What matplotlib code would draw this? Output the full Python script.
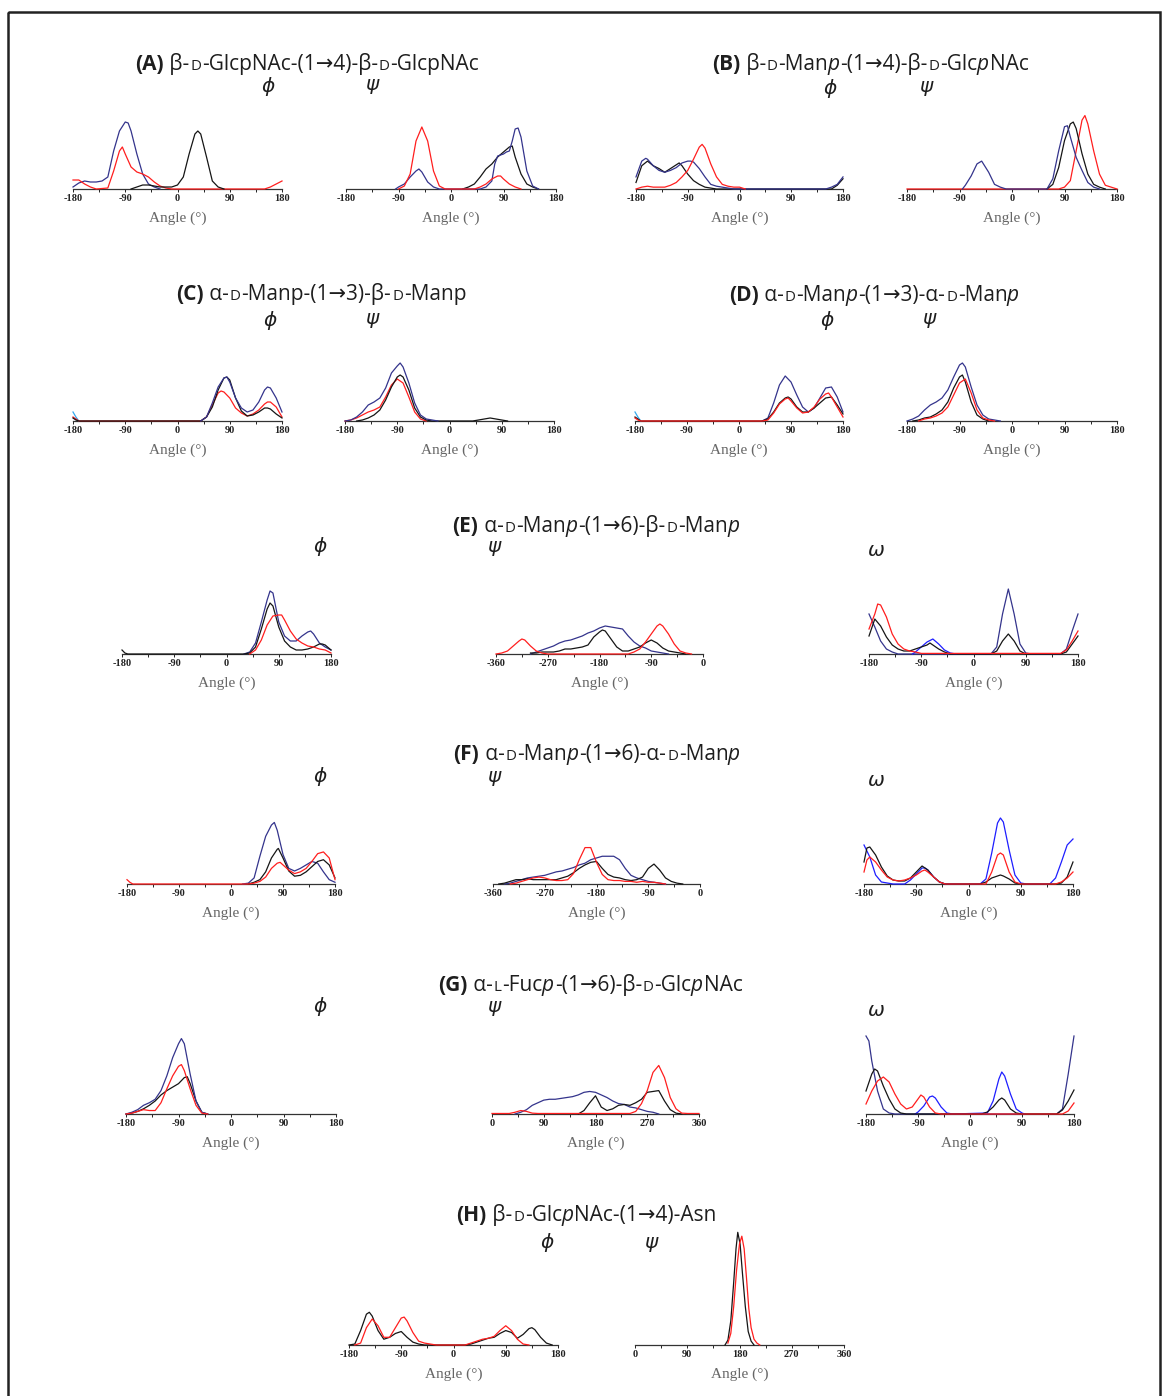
import matplotlib
matplotlib.use("Agg")
import matplotlib.pyplot as plt
from matplotlib.patches import Rectangle

# ---- curves: (angle in degrees, relative height) ----
A_phi_navy = [(-180, 2), (-170, 6), (-160, 8), (-150, 7), (-140, 7), (-130, 8), (-120, 12), (-110, 38), (-100, 58),
              (-90, 67), (-85, 66), (-80, 58), (-70, 35), (-60, 15), (-50, 5), (-40, 2), (-30, 0)]
A_phi_red = [(-180, 9), (-170, 9), (-160, 5), (-150, 2), (-140, 0), (-120, 1), (-110, 18), (-100, 38), (-95, 42),
             (-90, 35), (-80, 22), (-70, 17), (-60, 15), (-50, 12), (-40, 7), (-30, 3), (-20, 1), (-10, 0),
             (150, 0), (160, 2), (170, 5), (180, 8)]
A_phi_black = [(-80, 0), (-70, 2), (-60, 4), (-50, 4), (-40, 3), (-30, 2), (-20, 2), (-10, 2), (0, 4), (10, 12),
               (20, 35), (30, 55), (35, 58), (40, 55), (50, 32), (60, 8), (70, 2), (80, 0)]

A_psi_red = [(-90, 0), (-80, 3), (-70, 15), (-60, 48), (-50, 62), (-40, 48), (-30, 18), (-20, 3), (-10, 0),
             (40, 0), (50, 2), (60, 5), (70, 10), (80, 13), (85, 13), (90, 10), (100, 5), (110, 2), (120, 0)]
A_psi_navy = [(-95, 0), (-90, 2), (-80, 5), (-70, 12), (-60, 18), (-55, 20), (-50, 17), (-40, 7), (-30, 2), (-20, 0),
              (50, 0), (60, 2), (70, 8), (75, 25), (80, 33), (90, 35), (95, 37), (100, 38), (105, 48), (110, 60),
              (115, 61), (120, 52), (125, 35), (130, 18), (140, 3), (150, 0)]
A_psi_black = [(20, 0), (30, 2), (40, 5), (50, 12), (60, 20), (70, 25), (80, 32), (90, 37), (100, 42), (105, 43),
               (110, 32), (120, 15), (130, 5), (140, 2), (150, 0)]

B_phi_navy = [(-180, 13), (-170, 30), (-163, 33), (-160, 32), (-150, 25), (-140, 20), (-130, 18), (-120, 20),
              (-110, 23), (-100, 28), (-90, 30), (-85, 30), (-80, 29), (-70, 22), (-60, 13), (-50, 5), (-40, 3),
              (-30, 2), (-20, 1), (-10, 0), (150, 0), (160, 2), (170, 5), (180, 13)]
B_phi_black = [(-180, 7), (-170, 25), (-160, 30), (-150, 25), (-140, 22), (-130, 18), (-120, 22), (-110, 26),
               (-105, 28), (-100, 25), (-90, 16), (-80, 9), (-70, 5), (-60, 2), (-50, 1), (-40, 0), (160, 0),
               (170, 4), (180, 11)]
B_phi_red = [(-180, 0), (-170, 2), (-160, 3), (-150, 2), (-140, 2), (-130, 2), (-120, 4), (-110, 7), (-100, 13),
             (-90, 20), (-80, 32), (-70, 45), (-65, 48), (-60, 44), (-50, 27), (-40, 13), (-30, 5), (-20, 3),
             (-10, 2), (0, 2), (10, 0)]

B_psi_navy = [(-85, 0), (-80, 4), (-70, 14), (-60, 27), (-52, 30), (-50, 28), (-40, 18), (-30, 5), (-20, 2), (-10, 0),
              (60, 0), (70, 11), (80, 41), (90, 67), (95, 68), (100, 56), (110, 34), (120, 20), (130, 7), (140, 2),
              (150, 0)]
B_psi_black = [(60, 0), (70, 5), (80, 23), (90, 52), (100, 70), (105, 72), (110, 65), (120, 38), (130, 16), (140, 5),
               (150, 2), (160, 0)]
B_psi_red = [(-180, 0), (80, 0), (90, 2), (100, 9), (110, 41), (120, 74), (125, 79), (130, 70), (140, 41), (150, 16),
             (160, 4), (170, 2), (180, 0)]

C_phi_cyan = [(-180, 9), (-175, 4), (-170, 0)]
C_phi_navy = [(40, 0), (50, 4), (60, 18), (70, 34), (80, 43), (85, 44), (90, 39), (100, 23), (110, 13), (120, 9),
              (130, 11), (140, 19), (150, 31), (155, 34), (160, 33), (170, 23), (180, 9)]
C_phi_black = [(-180, 3), (-175, 1), (-170, 0), (40, 0), (50, 4), (60, 14), (70, 31), (80, 43), (85, 44), (90, 41),
               (100, 23), (110, 10), (120, 5), (130, 6), (140, 9), (150, 13), (155, 13), (160, 12), (170, 7), (180, 3)]
C_phi_red = [(-180, 4), (-175, 2), (-170, 0), (40, 0), (50, 4), (60, 16), (70, 28), (75, 30), (80, 29), (90, 23),
             (100, 13), (110, 8), (120, 5), (130, 7), (140, 11), (150, 17), (155, 19), (160, 19), (170, 14), (180, 4)]

C_psi_navy = [(-180, 0), (-170, 1), (-160, 4), (-150, 9), (-140, 16), (-130, 19), (-120, 23), (-110, 33), (-100, 48),
              (-90, 55), (-85, 58), (-80, 54), (-70, 38), (-60, 18), (-50, 6), (-40, 2), (-30, 1), (-20, 0)]
C_psi_black = [(-160, 0), (-150, 1), (-140, 3), (-130, 6), (-120, 11), (-110, 21), (-100, 34), (-90, 44), (-85, 46),
               (-80, 44), (-70, 31), (-60, 13), (-50, 4), (-40, 1), (-30, 0), (40, 0), (50, 1), (60, 2), (70, 3),
               (80, 2), (90, 1), (100, 0)]
C_psi_red = [(-180, 0), (-170, 1), (-160, 3), (-150, 6), (-140, 9), (-130, 11), (-120, 14), (-110, 24), (-100, 36),
             (-90, 42), (-80, 38), (-70, 24), (-60, 9), (-50, 2), (-40, 0)]

D_phi_cyan = [(-180, 9), (-175, 4), (-170, 0)]
D_phi_navy = [(40, 0), (50, 3), (60, 18), (70, 36), (80, 45), (90, 39), (100, 26), (110, 14), (120, 9), (130, 13),
              (140, 23), (150, 33), (160, 34), (170, 24), (180, 9)]
D_phi_black = [(-180, 4), (-175, 2), (-170, 0), (40, 0), (50, 2), (60, 9), (70, 18), (80, 23), (85, 24), (90, 22),
               (100, 14), (110, 9), (120, 9), (130, 13), (140, 18), (150, 23), (160, 24), (170, 16), (180, 7)]
D_phi_red = [(-180, 3), (-175, 1), (-170, 0), (40, 0), (50, 1), (60, 8), (70, 17), (80, 22), (85, 23), (90, 20),
             (100, 13), (110, 8), (120, 9), (130, 14), (140, 22), (150, 27), (155, 28), (160, 24), (170, 14), (180, 4)]

D_psi_navy = [(-180, 0), (-170, 2), (-160, 5), (-150, 11), (-140, 16), (-130, 19), (-120, 23), (-110, 31), (-100, 44),
              (-90, 56), (-85, 58), (-80, 54), (-70, 34), (-60, 16), (-50, 6), (-40, 2), (-30, 1), (-20, 0)]
D_psi_black = [(-170, 0), (-160, 1), (-150, 3), (-140, 4), (-130, 7), (-120, 11), (-110, 19), (-100, 33), (-90, 44),
               (-85, 46), (-80, 39), (-70, 19), (-60, 6), (-50, 2), (-40, 0)]
D_psi_red = [(-160, 0), (-150, 2), (-140, 3), (-130, 5), (-120, 8), (-110, 14), (-100, 26), (-90, 38), (-80, 42),
             (-70, 28), (-60, 11), (-50, 3), (-40, 1), (-30, 0)]

E_phi_navy = [(30, 0), (40, 2), (50, 11), (60, 32), (70, 54), (75, 63), (80, 61), (90, 32), (100, 18), (110, 13),
              (120, 13), (130, 18), (140, 22), (145, 23), (150, 20), (160, 11), (170, 7), (180, 4)]
E_phi_black = [(-180, 4), (-175, 1), (-170, 0), (30, 0), (40, 1), (50, 7), (60, 25), (70, 45), (75, 51), (80, 48),
               (90, 27), (100, 13), (110, 7), (120, 4), (130, 4), (140, 5), (150, 7), (160, 10), (165, 10), (170, 9),
               (180, 4)]
E_phi_red = [(40, 0), (50, 4), (60, 14), (70, 29), (80, 38), (90, 39), (95, 39), (100, 34), (110, 23), (120, 15),
             (130, 11), (140, 8), (150, 7), (160, 5), (170, 4), (180, 1)]

E_psi_red = [(-360, 0), (-350, 1), (-340, 3), (-330, 8), (-320, 13), (-315, 15), (-310, 14), (-300, 8), (-290, 3),
             (-280, 1), (-270, 0), (-130, 0), (-120, 2), (-110, 5), (-100, 12), (-90, 20), (-80, 28), (-75, 30),
             (-70, 28), (-60, 20), (-50, 10), (-40, 3), (-30, 1), (-20, 0)]
E_psi_navy = [(-300, 0), (-290, 2), (-280, 4), (-270, 6), (-260, 8), (-250, 11), (-240, 13), (-230, 14), (-220, 16),
              (-210, 18), (-200, 21), (-190, 23), (-180, 26), (-170, 28), (-160, 27), (-150, 26), (-140, 25),
              (-130, 18), (-120, 12), (-110, 8), (-100, 6), (-90, 3), (-80, 2), (-70, 1), (-60, 0)]
E_psi_black = [(-300, 1), (-290, 1), (-280, 2), (-270, 2), (-260, 2), (-250, 3), (-240, 5), (-230, 5), (-220, 6),
               (-210, 7), (-200, 9), (-190, 17), (-180, 22), (-175, 24), (-170, 23), (-160, 15), (-150, 7),
               (-140, 3), (-130, 3), (-120, 5), (-110, 7), (-100, 11), (-90, 14), (-80, 11), (-70, 6), (-60, 3),
               (-50, 2), (-40, 1), (-30, 0)]

E_omega_navy = [(-180, 40), (-170, 27), (-160, 13), (-150, 5), (-140, 2), (-130, 0), (30, 0), (40, 7), (50, 40),
                (60, 65), (70, 40), (80, 10), (90, 1), (100, 0), (150, 0), (160, 5), (170, 23), (180, 40)]
E_omega_blue = [(-105, 0), (-100, 2), (-90, 7), (-80, 12), (-70, 15), (-60, 10), (-50, 4), (-40, 1), (-30, 0)]
E_omega_black = [(-180, 18), (-170, 35), (-160, 28), (-150, 17), (-140, 9), (-130, 5), (-120, 3), (-110, 3),
                 (-100, 5), (-90, 7), (-80, 9), (-75, 11), (-70, 9), (-60, 5), (-50, 2), (-40, 0), (30, 0), (40, 3),
                 (50, 13), (60, 20), (70, 13), (80, 3), (90, 0), (150, 0), (160, 2), (170, 10), (180, 18)]
E_omega_red = [(-180, 25), (-170, 40), (-165, 50), (-160, 49), (-150, 37), (-140, 20), (-130, 10), (-120, 5),
               (-110, 3), (-100, 2), (-90, 0.6), (150, 0.6), (160, 4), (170, 13), (180, 23)]

F_phi_navy = [(20, 0), (30, 1), (40, 7), (50, 32), (60, 55), (70, 68), (75, 71), (80, 62), (90, 34), (100, 18),
              (110, 15), (120, 18), (130, 22), (140, 26), (150, 24), (160, 14), (170, 5), (180, 2)]
F_phi_black = [(30, 0), (40, 2), (50, 5), (60, 14), (70, 30), (80, 40), (82, 41), (90, 30), (100, 15), (110, 9),
               (120, 10), (130, 14), (140, 20), (150, 26), (160, 28), (170, 22), (180, 7)]
F_phi_red = [(-180, 5), (-175, 2), (-170, 0), (30, 0), (40, 1), (50, 3), (60, 8), (70, 18), (80, 24), (85, 25),
             (90, 22), (100, 16), (110, 12), (120, 14), (130, 18), (140, 26), (150, 35), (160, 37), (170, 30), (180, 5)]

F_psi_navy = [(-340, 0), (-330, 1), (-320, 3), (-310, 5), (-300, 7), (-290, 8), (-280, 9), (-270, 10), (-260, 12),
              (-250, 14), (-240, 15), (-230, 17), (-220, 19), (-210, 22), (-200, 24), (-190, 28), (-180, 30),
              (-170, 32), (-160, 32), (-150, 32), (-140, 28), (-130, 18), (-120, 10), (-110, 7), (-100, 5), (-90, 3),
              (-80, 2), (-70, 1), (-60, 0)]
F_psi_black = [(-350, 0), (-340, 1), (-330, 3), (-320, 5), (-310, 5), (-300, 6), (-290, 5), (-280, 5), (-270, 5),
               (-260, 5), (-250, 5), (-240, 7), (-230, 9), (-220, 13), (-210, 18), (-200, 22), (-190, 25), (-180, 26),
               (-170, 18), (-160, 11), (-150, 8), (-140, 7), (-130, 5), (-120, 4), (-110, 5), (-100, 8), (-90, 18),
               (-80, 23), (-70, 16), (-60, 7), (-50, 3), (-40, 1), (-30, 0)]
F_psi_red = [(-330, 0), (-320, 1), (-310, 3), (-300, 5), (-290, 7), (-280, 8), (-270, 7), (-260, 5), (-250, 4),
             (-240, 4), (-230, 5), (-220, 12), (-210, 28), (-200, 42), (-190, 42), (-180, 25), (-170, 11), (-160, 5),
             (-150, 4), (-140, 4), (-130, 3), (-120, 3), (-110, 2), (-100, 3), (-90, 2), (-80, 2), (-70, 1), (-60, 0)]

F_omega_blue = [(-180, 39), (-170, 27), (-160, 9), (-150, 2), (-140, 1), (-130, 0), (-110, 0), (-100, 4), (-90, 10),
                (-80, 16), (-75, 16), (-70, 14), (-60, 7), (-50, 2), (-40, 0), (20, 0), (30, 5), (40, 31), (50, 61),
                (55, 66), (60, 62), (70, 34), (80, 9), (90, 1), (100, 0), (140, 0), (150, 6), (160, 22), (170, 39),
                (180, 45)]
F_omega_black = [(-180, 22), (-175, 36), (-170, 37), (-160, 29), (-150, 17), (-140, 8), (-130, 4), (-120, 3),
                 (-110, 3), (-100, 6), (-90, 12), (-80, 18), (-70, 14), (-60, 7), (-50, 2), (-40, 0), (20, 0),
                 (30, 2), (40, 6), (50, 8), (55, 9), (60, 8), (70, 5), (80, 1), (90, 0), (150, 0), (160, 1),
                 (170, 7), (180, 22)]
F_omega_red = [(-180, 12), (-175, 24), (-170, 27), (-160, 22), (-150, 14), (-140, 7), (-130, 4), (-120, 3),
               (-110, 4), (-100, 6), (-90, 9), (-80, 13), (-75, 14), (-70, 12), (-60, 7), (-50, 2), (-40, 0), (30, 0),
               (40, 12), (50, 29), (55, 31), (60, 29), (70, 12), (80, 2), (90, 0), (150, 0), (160, 2), (170, 6),
               (180, 12)]

G_phi_navy = [(-180, 0), (-170, 2), (-160, 5), (-150, 10), (-140, 13), (-130, 17), (-120, 27), (-110, 44), (-100, 65),
              (-90, 81), (-85, 87), (-80, 81), (-70, 46), (-60, 15), (-50, 2), (-40, 0)]
G_phi_red = [(-180, 0), (-170, 1), (-160, 3), (-150, 5), (-140, 4), (-130, 4), (-120, 13), (-110, 29), (-100, 44),
             (-90, 55), (-85, 57), (-80, 50), (-70, 29), (-60, 10), (-50, 1), (-40, 0)]
G_phi_black = [(-180, 0), (-170, 1), (-160, 3), (-150, 6), (-140, 10), (-130, 15), (-120, 22), (-110, 27), (-100, 31),
               (-90, 35), (-80, 42), (-75, 43), (-70, 35), (-60, 15), (-50, 2), (-40, 0)]

G_psi_navy = [(40, 0), (50, 2), (60, 5), (70, 10), (80, 13), (90, 16), (100, 17), (110, 17), (120, 18), (130, 19),
              (140, 20), (150, 22), (160, 25), (170, 26), (180, 25), (190, 22), (200, 19), (210, 15), (220, 12),
              (230, 11), (240, 8), (250, 7), (260, 5), (270, 3), (280, 2), (290, 0)]
G_psi_black = [(150, 0), (160, 4), (170, 13), (180, 21), (190, 8), (200, 4), (210, 6), (220, 10), (230, 11), (240, 10),
               (250, 13), (260, 17), (270, 25), (280, 26), (290, 27), (300, 15), (310, 5), (320, 1), (330, 0)]
G_psi_red = [(0, 0.6), (30, 0.6), (40, 2), (50, 4), (60, 3), (70, 1), (80, 0.6), (240, 0.6), (250, 3), (260, 12),
             (270, 27), (280, 48), (290, 56), (300, 42), (310, 19), (320, 6), (330, 1), (340, 0.6), (360, 0.6)]

G_omega_navy = [(-180, 78), (-175, 73), (-170, 53), (-160, 23), (-150, 5), (-140, 1), (-130, 0), (150, 0), (160, 5),
                (170, 40), (180, 78)]
G_omega_blue = [(-95, 0), (-90, 2), (-80, 8), (-70, 17), (-65, 18), (-60, 16), (-50, 7), (-40, 1), (-30, 0), (30, 1),
                (40, 13), (50, 35), (55, 42), (60, 38), (70, 20), (80, 5), (90, 1), (95, 0)]
G_omega_black = [(-180, 23), (-170, 40), (-165, 45), (-160, 43), (-150, 28), (-140, 15), (-130, 5), (-120, 1),
                 (-110, 0), (20, 0), (30, 2), (40, 7), (50, 14), (55, 16), (60, 14), (70, 5), (80, 1), (90, 0),
                 (150, 0), (160, 4), (170, 13), (180, 24)]
G_omega_red = [(-180, 10), (-170, 23), (-160, 33), (-150, 37), (-140, 32), (-130, 20), (-120, 10), (-110, 5),
               (-100, 7), (-90, 15), (-85, 19), (-80, 17), (-70, 7), (-60, 1), (-50, 0), (160, 0), (170, 3), (180, 11)]

H_phi_black = [(-180, 0), (-170, 1), (-160, 15), (-150, 32), (-145, 34), (-140, 30), (-130, 15), (-120, 6),
               (-110, 8), (-100, 12), (-90, 14), (-80, 8), (-70, 3), (-60, 1), (-50, 0), (20, 0), (30, 1), (40, 3),
               (50, 5), (60, 7), (70, 8), (80, 12), (90, 15), (100, 13), (110, 7), (120, 11), (130, 17), (135, 18),
               (140, 16), (150, 8), (160, 2), (170, 0)]
H_phi_red = [(-170, 0), (-160, 2), (-150, 18), (-140, 27), (-130, 20), (-120, 8), (-110, 8), (-100, 18), (-90, 28),
             (-85, 29), (-80, 25), (-70, 13), (-60, 4), (-50, 2), (-40, 1), (-30, 0), (20, 0), (30, 2), (40, 4),
             (50, 6), (60, 7), (70, 9), (80, 15), (90, 20), (100, 15), (110, 6), (120, 1), (130, 0)]
H_psi_black = [(155, 0), (160, 5), (165, 25), (170, 65), (174, 100), (177, 117), (181, 105), (185, 75), (190, 40),
               (195, 14), (200, 4), (205, 0)]
H_psi_red = [(160, 2), (165, 12), (170, 40), (175, 78), (180, 105), (184, 113), (188, 100), (192, 70), (196, 38),
             (200, 18), (205, 6), (210, 2), (215, 0)]

# tick labels
ticks_pm180 = ["-180", "-90", "0", "90", "180"]
ticks_neg360 = ["-360", "-270", "-180", "-90", "0"]
ticks_pos360 = ["0", "90", "180", "270", "360"]

NAVY, RED, BLACK, BLUE, CYAN = "#34348c", "#ff1e1e", "#151515", "#1e1eff", "#35a9ef"

W, H = 1168, 1396
fig = plt.figure(figsize=(W / 100, H / 100), dpi=100)
ov = fig.add_axes([0, 0, 1, 1])
ov.set_xlim(0, W)
ov.set_ylim(H, 0)
ov.axis("off")

ov.add_patch(Rectangle((8, 12), 1152, 1400, fill=False, lw=1.8, ec="#222222", clip_on=False))

TITLE_FONT = ["Open Sans", "DejaVu Sans"]


def draw_title(cx, y, parts, size=15):
    r = fig.canvas.get_renderer()
    texts = []
    for s, kind in parts:
        kw = dict(fontsize=size, family=TITLE_FONT, color="#1e1e1e", ha="left", va="baseline")
        if kind == "b":
            kw["fontweight"] = "bold"
        elif kind == "i":
            kw["fontstyle"] = "italic"
        elif kind == "s":
            kw["fontsize"] = size * 0.72
        texts.append((ov.text(0, y, s, **kw), kind))
    widths = [t.get_window_extent(r).width for t, _ in texts]
    x = cx - sum(widths) / 2
    for (t, kind), w in zip(texts, widths):
        if kind == "i":
            x -= 1.5
        t.set_x(x)
        x += w + 0.8


def greek(x, y, s):
    ov.text(x, y, s, fontsize=14.5, family="DejaVu Sans", style="italic", color="#1e1e1e", ha="center", va="center")


def panel(x0, x1, yax, lo, hi, labels, curves, scale=1.0):
    ax = fig.add_axes([x0 / W, (H - yax) / H, (x1 - x0) / W, 130 / H])
    ax.patch.set_alpha(0)
    for pts, col in curves:
        ax.plot([p[0] for p in pts], [p[1] for p in pts], color=col, lw=0.9, clip_on=False, zorder=3)
    ax.set_xlim(lo, hi)
    ax.set_ylim(0, 130 / scale)
    for s in ("top", "left", "right"):
        ax.spines[s].set_visible(False)
    ax.spines["bottom"].set_color("#333333")
    ax.spines["bottom"].set_linewidth(0.9)
    ax.set_yticks([])
    ax.set_xticks([lo + 90 * k for k in range(5)])
    ax.set_xticklabels(labels, fontfamily="Liberation Serif", fontweight="bold", fontsize=7.5)
    ax.set_xticks([lo + 45 + 90 * k for k in range(4)], minor=True)
    ax.tick_params(axis="x", which="both", direction="out", length=2.5, width=0.7, pad=1.2, colors="#222222")
    ov.text((x0 + x1) / 2, yax + 29, "Angle (°)", fontsize=11, family="Liberation Serif",
            color="#666666", ha="center", va="center")


# (A) / (B)
draw_title(305, 70, [("(A)", "b"), (" β-", "r"), ("D", "s"), ("-GlcpNAc-(1→4)-β-", "r"), ("D", "s"),
                     ("-GlcpNAc", "r")])
draw_title(868, 70, [("(B)", "b"), (" β-", "r"), ("D", "s"), ("-Man", "r"), ("p", "i"), ("-(1→4)-β-", "r"),
                     ("D", "s"), ("-Glc", "r"), ("p", "i"), ("NAc", "r")])
greek(268, 86, "ϕ"); greek(372, 85, "ψ"); greek(830, 88, "ϕ"); greek(926, 86, "ψ")
panel(73, 282, 189, -180, 180, ticks_pm180, [(A_phi_navy, NAVY), (A_phi_red, RED), (A_phi_black, BLACK)])
panel(346, 556, 189, -180, 180, ticks_pm180, [(A_psi_black, BLACK), (A_psi_navy, NAVY), (A_psi_red, RED)])
panel(636, 843, 189, -180, 180, ticks_pm180, [(B_phi_black, BLACK), (B_phi_navy, NAVY), (B_phi_red, RED)], 0.93)
panel(907, 1117, 189, -180, 180, ticks_pm180, [(B_psi_red, RED), (B_psi_black, BLACK), (B_psi_navy, NAVY)], 0.93)

# (C) / (D)
draw_title(319, 300, [("(C)", "b"), (" α-", "r"), ("D", "s"), ("-Manp-(1→3)-β-", "r"), ("D", "s"), ("-Manp", "r")])
draw_title(872, 301, [("(D)", "b"), (" α-", "r"), ("D", "s"), ("-Man", "r"), ("p", "i"), ("-(1→3)-α-", "r"),
                      ("D", "s"), ("-Man", "r"), ("p", "i")])
greek(270, 320, "ϕ"); greek(372, 318, "ψ"); greek(827, 320, "ϕ"); greek(929, 318, "ψ")
panel(73, 282, 421, -180, 180, ticks_pm180, [(C_phi_cyan, CYAN), (C_phi_red, RED), (C_phi_black, BLACK),
                                             (C_phi_navy, NAVY)])
panel(345, 554, 421, -180, 180, ticks_pm180, [(C_psi_red, RED), (C_psi_black, BLACK), (C_psi_navy, NAVY)])
panel(635, 843, 421, -180, 180, ticks_pm180, [(D_phi_cyan, CYAN), (D_phi_navy, NAVY), (D_phi_black, BLACK),
                                              (D_phi_red, RED)])
panel(907, 1117, 421, -180, 180, ticks_pm180, [(D_psi_navy, NAVY), (D_psi_black, BLACK), (D_psi_red, RED)])

# (E)
draw_title(594, 532, [("(E)", "b"), (" α-", "r"), ("D", "s"), ("-Man", "r"), ("p", "i"), ("-(1→6)-β-", "r"),
                      ("D", "s"), ("-Man", "r"), ("p", "i")])
greek(320, 547, "ϕ"); greek(494, 547, "ψ"); greek(876, 551, "ω")
panel(122, 331, 654, -180, 180, ticks_pm180, [(E_phi_navy, NAVY), (E_phi_black, BLACK), (E_phi_red, RED)])
panel(496, 703, 654, -360, 0, ticks_neg360, [(E_psi_navy, NAVY), (E_psi_black, BLACK), (E_psi_red, RED)])
panel(869, 1078, 654, -180, 180, ticks_pm180, [(E_omega_navy, NAVY), (E_omega_blue, BLUE), (E_omega_black, BLACK),
                                               (E_omega_red, RED)])

# (F)
draw_title(595, 760, [("(F)", "b"), (" α-", "r"), ("D", "s"), ("-Man", "r"), ("p", "i"), ("-(1→6)-α-", "r"),
                      ("D", "s"), ("-Man", "r"), ("p", "i")])
greek(320, 777, "ϕ"); greek(494, 777, "ψ"); greek(876, 781, "ω")
panel(127, 335, 884, -180, 180, ticks_pm180, [(F_phi_navy, NAVY), (F_phi_black, BLACK), (F_phi_red, RED)], 0.867)
panel(493, 700, 884, -360, 0, ticks_neg360, [(F_psi_navy, NAVY), (F_psi_black, BLACK), (F_psi_red, RED)], 0.867)
panel(864, 1073, 884, -180, 180, ticks_pm180, [(F_omega_blue, BLUE), (F_omega_black, BLACK), (F_omega_red, RED)])

# (G)
draw_title(588, 991, [("(G)", "b"), (" α-", "r"), ("L", "s"), ("-Fuc", "r"), ("p", "i"), ("-(1→6)-β-", "r"),
                      ("D", "s"), ("-Glc", "r"), ("p", "i"), ("NAc", "r")])
greek(320, 1006, "ϕ"); greek(494, 1006, "ψ"); greek(876, 1011, "ω")
panel(126, 336, 1114, -180, 180, ticks_pm180, [(G_phi_black, BLACK), (G_phi_navy, NAVY), (G_phi_red, RED)], 0.867)
panel(492, 699, 1114, 0, 360, ticks_pos360, [(G_psi_navy, NAVY), (G_psi_black, BLACK), (G_psi_red, RED)], 0.867)
panel(866, 1074, 1114, -180, 180, ticks_pm180, [(G_omega_navy, NAVY), (G_omega_blue, BLUE), (G_omega_black, BLACK),
                                                (G_omega_red, RED)])

# (H)
draw_title(585, 1221, [("(H)", "b"), (" β-", "r"), ("D", "s"), ("-Glc", "r"), ("p", "i"), ("NAc-(1→4)-Asn", "r")])
greek(547, 1243, "ϕ"); greek(651, 1243, "ψ")
panel(349, 558, 1345, -180, 180, ticks_pm180, [(H_phi_black, BLACK), (H_phi_red, RED)], 0.963)
panel(635, 844, 1345, 0, 360, ticks_pos360, [(H_psi_black, BLACK), (H_psi_red, RED)], 0.963)

fig.savefig("out.png", dpi=100)
